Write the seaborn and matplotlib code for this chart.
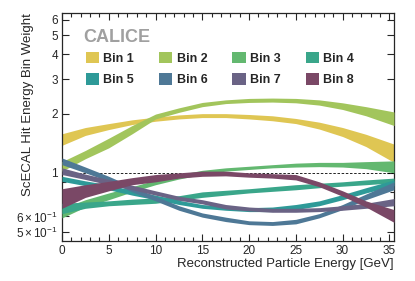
import numpy as np
import pandas as pd
import matplotlib
matplotlib.use('Agg')
import matplotlib.pyplot as plt
from matplotlib.patches import Patch
import seaborn as sns

# energy points (GeV) and band limits for each bin weight
energy = [0, 2.5, 5, 7.5, 10, 12.5, 15, 17.5, 20, 22.5, 25, 27.5, 30, 32.5, 35.5]

bin1_lo = [1.38, 1.55, 1.66, 1.76, 1.83, 1.88, 1.91, 1.91, 1.88, 1.84, 1.78, 1.67, 1.53, 1.36, 1.13]
bin1_hi = [1.58, 1.70, 1.78, 1.86, 1.92, 1.97, 2.00, 2.00, 1.98, 1.95, 1.89, 1.81, 1.70, 1.57, 1.40]
bin2_lo = [1.02, 1.18, 1.34, 1.58, 1.88, 2.03, 2.17, 2.25, 2.28, 2.29, 2.27, 2.21, 2.10, 1.95, 1.74]
bin2_hi = [1.14, 1.30, 1.50, 1.74, 1.99, 2.14, 2.28, 2.35, 2.39, 2.40, 2.39, 2.35, 2.27, 2.17, 2.04]
bin3_lo = [0.59, 0.67, 0.73, 0.80, 0.87, 0.93, 0.98, 1.02, 1.04, 1.06, 1.07, 1.075, 1.07, 1.05, 1.00]
bin3_hi = [0.66, 0.73, 0.79, 0.85, 0.92, 0.98, 1.03, 1.06, 1.08, 1.10, 1.12, 1.13, 1.13, 1.14, 1.15]
bin4_lo = [0.62, 0.66, 0.68, 0.69, 0.70, 0.725, 0.75, 0.77, 0.79, 0.805, 0.82, 0.84, 0.855, 0.87, 0.89]
bin4_hi = [0.70, 0.71, 0.72, 0.735, 0.745, 0.765, 0.80, 0.815, 0.83, 0.85, 0.87, 0.885, 0.90, 0.92, 0.94]
bin5_lo = [0.905, 0.86, 0.82, 0.77, 0.73, 0.69, 0.66, 0.645, 0.635, 0.635, 0.65, 0.68, 0.73, 0.79, 0.86]
bin5_hi = [0.96, 0.91, 0.87, 0.815, 0.77, 0.725, 0.69, 0.675, 0.665, 0.67, 0.69, 0.72, 0.775, 0.84, 0.92]
bin6_lo = [1.10, 1.00, 0.905, 0.80, 0.72, 0.645, 0.595, 0.565, 0.545, 0.54, 0.55, 0.59, 0.65, 0.73, 0.82]
bin6_hi = [1.19, 1.07, 0.96, 0.85, 0.76, 0.68, 0.625, 0.595, 0.57, 0.565, 0.58, 0.62, 0.69, 0.78, 0.90]
bin7_lo = [0.98, 0.925, 0.87, 0.82, 0.77, 0.725, 0.695, 0.655, 0.64, 0.63, 0.63, 0.635, 0.645, 0.66, 0.68]
bin7_hi = [1.06, 0.985, 0.925, 0.865, 0.81, 0.76, 0.73, 0.69, 0.67, 0.66, 0.66, 0.665, 0.68, 0.70, 0.74]
bin8_lo = [0.66, 0.75, 0.81, 0.87, 0.90, 0.94, 0.96, 0.965, 0.95, 0.94, 0.92, 0.85, 0.76, 0.67, 0.56]
bin8_hi = [0.83, 0.87, 0.905, 0.945, 0.98, 1.00, 1.02, 1.02, 1.00, 0.99, 0.98, 0.90, 0.81, 0.72, 0.65]

bin_names = ['Bin 1', 'Bin 2', 'Bin 3', 'Bin 4', 'Bin 5', 'Bin 6', 'Bin 7', 'Bin 8']
bin_colors = ['#DFC653', '#A2C55C', '#63B870', '#3AA68A', '#2E9A98', '#4E7896', '#6A6385', '#7A4866']

lows = [bin1_lo, bin2_lo, bin3_lo, bin4_lo, bin5_lo, bin6_lo, bin7_lo, bin8_lo]
highs = [bin1_hi, bin2_hi, bin3_hi, bin4_hi, bin5_hi, bin6_hi, bin7_hi, bin8_hi]

df = pd.DataFrame({'energy': energy})
for name, lo, hi in zip(bin_names, lows, highs):
    df[name + ' lo'] = lo
    df[name + ' hi'] = hi

sns.set_style('ticks')
plt.rcParams['font.family'] = ['Liberation Sans', 'DejaVu Sans']
plt.rcParams['mathtext.fontset'] = 'custom'
plt.rcParams['mathtext.rm'] = 'Liberation Sans'
plt.rcParams['mathtext.it'] = 'Liberation Sans'

fig = plt.figure(figsize=(4.15, 2.81), dpi=100)
ax = fig.add_axes([62/415, 40/281, 332/415, 228/281])

# reference line at weight 1, below the bands
ax.axhline(1.0, color='black', lw=0.6, ls=(0, (3, 2)), zorder=1)

palette = sns.color_palette(bin_colors)
for i, name in enumerate(bin_names):
    ax.fill_between(df['energy'], df[name + ' lo'], df[name + ' hi'],
                    color=palette[i], lw=0, zorder=2 + i)

ax.set_yscale('log')
ax.set_xlim(0, 35.5)
ax.set_ylim(0.45, 6.5)

ax.set_xticks([0, 5, 10, 15, 20, 25, 30, 35])
ax.set_xticks(np.arange(0, 36, 1), minor=True)
ax.set_yticks([0.5, 0.6, 1, 2, 3, 4, 5, 6])
ax.set_yticklabels([r'$5\times10^{-1}$', r'$6\times10^{-1}$', '1', '2', '3', '4', '5', '6'])
ax.set_yticks([0.7, 0.8, 0.9], minor=True)
ax.yaxis.set_minor_formatter(matplotlib.ticker.NullFormatter())

ax.tick_params(which='both', direction='in', top=True, right=True, labelsize=8.5, width=0.8, pad=3)
ax.tick_params(which='major', length=5)
ax.tick_params(which='minor', length=3)
for s in ax.spines.values():
    s.set_linewidth(0.9)

ax.set_xlabel('Reconstructed Particle Energy [GeV]', fontsize=9.5, loc='right')
ax.set_ylabel('ScECAL Hit Energy Bin Weight', fontsize=9.5, loc='top')
ax.xaxis.set_label_coords(1.0, -0.075)
ax.yaxis.set_label_coords(-0.085, 1.0)

ax.text(0.063, 0.893, 'CALICE', transform=ax.transAxes, fontsize=13,
        fontweight='bold', color='#A0A0A0', va='center', ha='left')

handles = [Patch(facecolor=c, edgecolor='none') for c in bin_colors]
order = [0, 4, 1, 5, 2, 6, 3, 7]
ax.legend([handles[k] for k in order], [bin_names[k] for k in order],
          ncol=4, loc='upper left', bbox_to_anchor=(0.072, 0.83),
          frameon=False, borderpad=0, borderaxespad=0,
          handlelength=1.05, handleheight=1.05, handletextpad=0.35,
          columnspacing=2.0, labelspacing=0.65,
          prop={'weight': 'bold', 'size': 9})

fig.savefig('out.png', dpi=100)
